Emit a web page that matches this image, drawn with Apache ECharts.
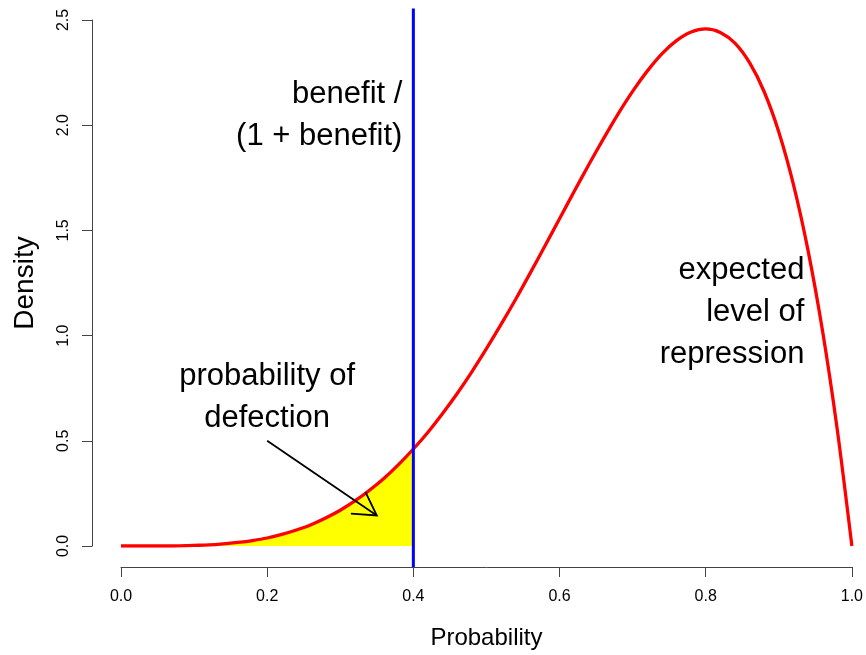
<!DOCTYPE html>
<html>
<head>
<meta charset="utf-8">
<script src="https://cdn.jsdelivr.net/npm/echarts@6/dist/echarts.min.js"></script>
<style>
html,body{margin:0;padding:0;background:#fff;}
#chart{width:866px;height:655px;}
</style>
</head>
<body>
<div id="chart"></div>
<script>
// Probability grid (x) and density values (y)
const probX = [0.00,0.02,0.04,0.06,0.08,0.10,0.12,0.14,0.16,0.18,0.20,0.22,0.24,0.26,0.28,0.30,0.32,0.34,0.36,0.38,0.40,
  0.42,0.44,0.46,0.48,0.50,0.52,0.54,0.56,0.58,0.60,0.62,0.64,0.66,0.68,0.70,0.72,0.74,0.76,0.78,0.80,
  0.82,0.84,0.86,0.88,0.90,0.92,0.94,0.96,0.98,1.00];
const densityY = [0.000,0.000,0.000,0.000,0.001,0.003,0.005,0.010,0.017,0.026,0.038,0.055,0.076,0.101,0.133,0.170,0.214,0.265,0.322,0.388,0.461,
  0.541,0.630,0.725,0.828,0.938,1.053,1.173,1.298,1.426,1.555,1.685,1.812,1.935,2.053,2.161,2.257,2.339,2.402,2.443,2.458,
  2.441,2.390,2.297,2.159,1.968,1.719,1.405,1.019,0.553,0.000];
const threshold = 0.4;            // benefit / (1 + benefit)
const thresholdSpan = [-0.1, 2.555];
const arrowFrom = [0.2, 0.5];
const arrowTo = [0.35, 0.145];
const xTicks = [0.0, 0.2, 0.4, 0.6, 0.8, 1.0];
const yTicks = [0.0, 0.5, 1.0, 1.5, 2.0, 2.5];
const annotations = [
  {text: 'benefit /\n(1 + benefit)', x: 0.385, y: 2.046, align: 'right'},
  {text: 'expected\nlevel of\nrepression', x: 0.935, y: 1.112, align: 'right'},
  {text: 'probability of\ndefection', x: 0.2, y: 0.706, align: 'center'}
];

const curve = probX.map((x, i) => [x, densityY[i]]);
const shaded = curve.filter(p => p[0] <= threshold + 1e-9);
const FONT = 'Liberation Sans, Arial, Helvetica, sans-serif';

const chart = echarts.init(document.getElementById('chart'), null, {renderer: 'canvas'});
chart.setOption({
  backgroundColor: '#ffffff',
  animation: false,
  textStyle: {fontFamily: FONT, color: '#000'},
  grid: {left: 121, right: 12.7, top: 20, bottom: 108.3, containLabel: false},
  xAxis: {
    type: 'value', min: 0, max: 1, interval: 0.2,
    offset: 21,
    name: 'Probability', nameLocation: 'middle', nameGap: 59,
    nameTextStyle: {fontSize: 24, color: '#000', fontFamily: FONT},
    axisLine: {show: true, onZero: false, lineStyle: {color: '#444', width: 1}},
    axisTick: {show: true, length: 10, lineStyle: {color: '#444', width: 1}},
    axisLabel: {fontSize: 16, color: '#000', margin: 22, fontFamily: FONT,
      formatter: v => v.toFixed(1)},
    splitLine: {show: false}
  },
  yAxis: {
    type: 'value', min: 0, max: 2.5, interval: 0.5,
    offset: 29,
    name: 'Density', nameLocation: 'middle', nameGap: 53, nameRotate: 90,
    nameTextStyle: {fontSize: 28, color: '#000', fontFamily: FONT},
    axisLine: {show: true, onZero: false, lineStyle: {color: '#444', width: 1}},
    axisTick: {show: true, length: 10, lineStyle: {color: '#444', width: 1}},
    axisLabel: {fontSize: 16, color: '#000', margin: 20, rotate: 90, fontFamily: FONT,
      formatter: v => v.toFixed(1)},
    splitLine: {show: false}
  },
  series: [
    {
      type: 'line', data: shaded, symbol: 'none', z: 1,
      lineStyle: {width: 0, opacity: 0},
      areaStyle: {color: '#ffff00', opacity: 1},
      smooth: 0.3
    },
    {
      type: 'line', data: curve, symbol: 'none', z: 2,
      lineStyle: {color: '#ff0000', width: 3.3},
      smooth: 0.3
    },
    {
      type: 'line', data: thresholdSpan.map(y => [threshold, y]), symbol: 'none', z: 3,
      clip: false,
      lineStyle: {color: '#0000ff', width: 3}
    },
    {
      type: 'custom', z: 4, clip: false,
      data: [[arrowFrom[0], arrowFrom[1], arrowTo[0], arrowTo[1]]],
      encode: {x: [0, 2], y: [1, 3]},
      renderItem: function (params, api) {
        const p1 = api.coord([api.value(0), api.value(1)]);
        const p2 = api.coord([api.value(2), api.value(3)]);
        const ang = Math.atan2(p1[1] - p2[1], p1[0] - p2[0]);
        const L = 26, a = Math.PI / 6;
        const h1 = [p2[0] + L * Math.cos(ang + a), p2[1] + L * Math.sin(ang + a)];
        const h2 = [p2[0] + L * Math.cos(ang - a), p2[1] + L * Math.sin(ang - a)];
        const st = {stroke: '#000', lineWidth: 1.8, fill: null};
        return {
          type: 'group',
          children: [
            {type: 'polyline', shape: {points: [p1, p2]}, style: st},
            {type: 'polyline', shape: {points: [h1, p2, h2]}, style: st}
          ]
        };
      }
    },
    {
      type: 'scatter', z: 5, symbolSize: 0, silent: true,
      itemStyle: {opacity: 1},
      label: {show: true, color: '#000', fontSize: 31, lineHeight: 42, fontFamily: FONT,
        textBorderWidth: 0, opacity: 1},
      emphasis: {disabled: true},
      data: annotations.map(a => ({
        value: [a.x, a.y],
        itemStyle: {opacity: 1},
        label: {
          show: true, position: [0, 0], formatter: a.text,
          align: a.align, verticalAlign: 'middle', opacity: 1,
          fontSize: 31, lineHeight: 42, color: '#000000', fontFamily: FONT
        }
      }))
    }
  ]
});
</script>
</body>
</html>
